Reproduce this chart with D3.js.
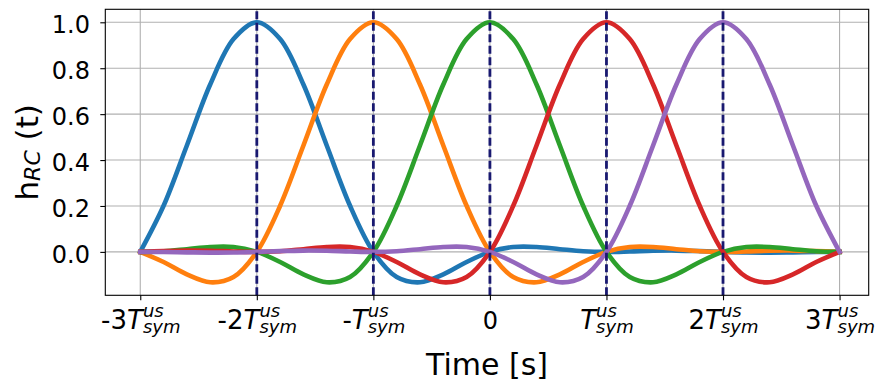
<!DOCTYPE html>
<html>
<head>
<meta charset="utf-8">
<script src="https://cdn.jsdelivr.net/npm/d3@7"></script>
<style>
  body { margin: 0; background: #fff; }
  svg { display: block; }
</style>
</head>
<body>
<svg id="chart" width="877" height="383"></svg>
<script>
// Sample instants, in units of the upsampled symbol period
const time = [-3, -2.8, -2.6, -2.4, -2.2, -2, -1.8, -1.6, -1.4, -1.2, -1,
              -0.8, -0.6, -0.4, -0.2, 0, 0.2, 0.4, 0.6, 0.8, 1,
              1.2, 1.4, 1.6, 1.8, 2, 2.2, 2.4, 2.6, 2.8, 3];

// Raised-cosine pulses centred on -2T, -T, 0, T and 2T
const pulseM2 = [0, 0.2008, 0.4634, 0.7290, 0.9268, 1, 0.9268, 0.7290, 0.4634, 0.2008, 0,
                 -0.1095, -0.1324, -0.0981, -0.0441, 0, 0.0211, 0.0214, 0.0119, 0.0030, 0,
                 0.0020, 0.0050, 0.0057, 0.0035, 0, -0.0026, -0.0030, -0.0019, -0.0006, 0];
const pulseM1 = [0, -0.0441, -0.0981, -0.1324, -0.1095, 0, 0.2008, 0.4634, 0.7290, 0.9268, 1,
                 0.9268, 0.7290, 0.4634, 0.2008, 0, -0.1095, -0.1324, -0.0981, -0.0441, 0,
                 0.0211, 0.0214, 0.0119, 0.0030, 0, 0.0020, 0.0050, 0.0057, 0.0035, 0];
const pulse0  = [0, 0.0030, 0.0119, 0.0214, 0.0211, 0, -0.0441, -0.0981, -0.1324, -0.1095, 0,
                 0.2008, 0.4634, 0.7290, 0.9268, 1, 0.9268, 0.7290, 0.4634, 0.2008, 0,
                 -0.1095, -0.1324, -0.0981, -0.0441, 0, 0.0211, 0.0214, 0.0119, 0.0030, 0];
const pulseP1 = [0, 0.0035, 0.0057, 0.0050, 0.0020, 0, 0.0030, 0.0119, 0.0214, 0.0211, 0,
                 -0.0441, -0.0981, -0.1324, -0.1095, 0, 0.2008, 0.4634, 0.7290, 0.9268, 1,
                 0.9268, 0.7290, 0.4634, 0.2008, 0, -0.1095, -0.1324, -0.0981, -0.0441, 0];
const pulseP2 = [0, -0.0006, -0.0019, -0.0030, -0.0026, 0, 0.0035, 0.0057, 0.0050, 0.0020, 0,
                 0.0030, 0.0119, 0.0214, 0.0211, 0, -0.0441, -0.0981, -0.1324, -0.1095, 0,
                 0.2008, 0.4634, 0.7290, 0.9268, 1, 0.9268, 0.7290, 0.4634, 0.2008, 0];

const pulseColors = ["#1f77b4", "#ff7f0e", "#2ca02c", "#d62728", "#9467bd"];

// Symbol instants marked with dashed lines
const symbolTimes = [-2, -1, 0, 1, 2];

// Axis ticks
const xTicks = [-3, -2, -1, 0, 1, 2, 3];
const xTickLabels = ["-3T", "-2T", "-T", "0", "T", "2T", "3T"];
const tickSup = "us";
const tickSub = "sym";
const yTicks = [0, 0.2, 0.4, 0.6, 0.8, 1.0];

const series = [pulseM2, pulseM1, pulse0, pulseP1, pulseP2]
  .map((values, i) => ({ values, color: pulseColors[i] }));

const svg = d3.select("#chart");
const font = "DejaVu Sans";
const box = { left: 105.3, right: 868.7, top: 9.3, bottom: 295.3 };

const x = d3.scaleLinear().domain([-3.3, 3.25]).range([box.left, box.right]);
const [lo, hi] = d3.extent(series.flatMap(s => s.values));
const pad = (hi - lo) * 0.05;
const y = d3.scaleLinear().domain([lo - pad, hi + pad]).range([box.bottom, box.top]);

// Grid
const grid = svg.append("g").attr("stroke", "#b0b0b0").attr("stroke-width", 1.1);
grid.selectAll("line.gx").data(xTicks).join("line").attr("class", "gx")
  .attr("x1", d => x(d)).attr("x2", d => x(d))
  .attr("y1", box.top).attr("y2", box.bottom);
grid.selectAll("line.gy").data(yTicks).join("line").attr("class", "gy")
  .attr("x1", box.left).attr("x2", box.right)
  .attr("y1", d => y(d)).attr("y2", d => y(d));

// Pulses
const line = d3.line()
  .x((d, i) => x(time[i]))
  .y(d => y(d))
  .curve(d3.curveCatmullRom.alpha(0.5));

svg.append("g").selectAll("path").data(series).join("path")
  .attr("d", d => line(d.values))
  .attr("fill", "none")
  .attr("stroke", d => d.color)
  .attr("stroke-width", 4.6)
  .attr("stroke-linejoin", "round")
  .attr("stroke-linecap", "square");

// Dashed symbol markers, drawn from the bottom up
svg.append("g").selectAll("line").data(symbolTimes).join("line")
  .attr("x1", d => x(d)).attr("x2", d => x(d))
  .attr("y1", box.bottom).attr("y2", box.top)
  .attr("stroke", "#191970")
  .attr("stroke-width", 2.8)
  .attr("stroke-dasharray", "8 3.5");

// Y axis
const gy = svg.append("g")
  .attr("transform", `translate(${box.left},0)`)
  .call(d3.axisLeft(y).tickValues(yTicks).tickSize(5).tickPadding(10.3)
    .tickFormat(d3.format(".1f")));
gy.select(".domain").remove();
gy.attr("font-family", font).attr("font-size", 24);
gy.selectAll(".tick line").attr("stroke", "#000").attr("stroke-width", 1.1);
gy.selectAll(".tick text").attr("fill", "#000").attr("dy", "0.43em");

// X axis with T^{us}_{sym} labels
const gx = svg.append("g")
  .attr("transform", `translate(0,${box.bottom})`)
  .call(d3.axisBottom(x).tickValues(xTicks).tickSize(5).tickFormat(() => ""));
gx.select(".domain").remove();
gx.attr("font-family", font);
gx.selectAll(".tick line").attr("stroke", "#000").attr("stroke-width", 1.1);

gx.selectAll(".tick").each(function (d, i) {
  const g = d3.select(this);
  g.select("text").remove();
  const label = xTickLabels[i];
  const base = 33.8;
  if (!label.endsWith("T")) {
    g.append("text").attr("y", base).attr("text-anchor", "middle")
      .attr("font-size", 24).attr("fill", "#000").text(label);
    return;
  }
  const prefix = label.slice(0, -1);
  const main = g.append("text").attr("y", base).attr("font-size", 26)
    .attr("text-anchor", "start").attr("fill", "#000");
  if (prefix) main.append("tspan").text(prefix);
  main.append("tspan").attr("font-style", "italic").text("T");
  const sup = g.append("text").attr("y", base - 12).attr("font-size", 18)
    .attr("text-anchor", "start").attr("font-style", "italic").attr("fill", "#000").text(tickSup);
  const sub = g.append("text").attr("y", base + 3.5).attr("font-size", 18)
    .attr("text-anchor", "start").attr("font-style", "italic").attr("fill", "#000").text(tickSub);
  const w1 = main.node().getComputedTextLength();
  const w2 = Math.max(sup.node().getComputedTextLength(), sub.node().getComputedTextLength());
  const x0 = -(w1 + w2) / 2;
  main.attr("x", x0);
  sup.attr("x", x0 + w1);
  sub.attr("x", x0 + w1);
});

// Frame
svg.append("rect")
  .attr("x", box.left).attr("y", box.top)
  .attr("width", box.right - box.left).attr("height", box.bottom - box.top)
  .attr("fill", "none").attr("stroke", "#000").attr("stroke-width", 1.1);

// Axis titles
svg.append("text")
  .attr("x", (box.left + box.right) / 2).attr("y", 374.5)
  .attr("text-anchor", "middle").attr("font-family", font).attr("font-size", 30)
  .attr("fill", "#000").text("Time [s]");

const yl = svg.append("text")
  .attr("transform", `translate(38.3,${(box.top + box.bottom) / 2}) rotate(-90)`)
  .attr("text-anchor", "middle").attr("font-family", font).attr("font-size", 31)
  .attr("fill", "#000");
yl.append("tspan").text("h");
yl.append("tspan").attr("font-size", 22).attr("font-style", "italic").attr("dy", 1.5).text("RC");
yl.append("tspan").attr("dy", -1.5).text(" (t)");
</script>
</body>
</html>
